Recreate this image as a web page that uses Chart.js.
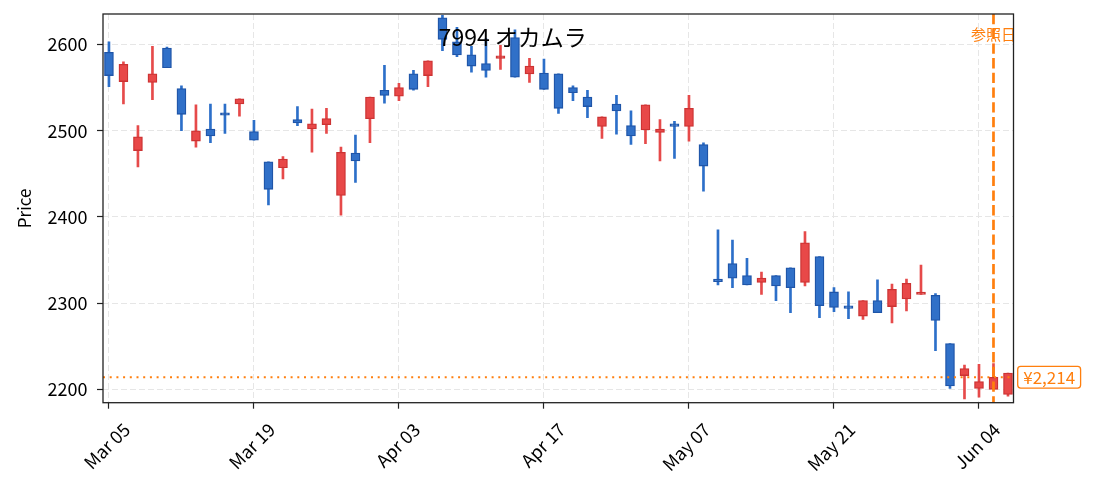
<!DOCTYPE html>
<html>
<head>
<meta charset="utf-8">
<script src="https://cdn.jsdelivr.net/npm/chart.js@4.4.1/dist/chart.umd.min.js"></script>
<style>
  html, body { margin: 0; padding: 0; background: #fff; }
</style>
</head>
<body>
<canvas id="Grafico" width="1093" height="491"></canvas>
<script>
// trading days shown on the x axis (one per candle)
const dates = [
  'Mar 05', 'Mar 06', 'Mar 07', 'Mar 10', 'Mar 11', 'Mar 12', 'Mar 13', 'Mar 14', 'Mar 17', 'Mar 18',
  'Mar 19', 'Mar 21', 'Mar 24', 'Mar 25', 'Mar 26', 'Mar 27', 'Mar 28', 'Mar 31', 'Apr 01', 'Apr 02',
  'Apr 03', 'Apr 04', 'Apr 07', 'Apr 08', 'Apr 09', 'Apr 10', 'Apr 11', 'Apr 14', 'Apr 15', 'Apr 16',
  'Apr 17', 'Apr 18', 'Apr 21', 'Apr 22', 'Apr 23', 'Apr 24', 'Apr 25', 'Apr 28', 'May 01', 'May 02',
  'May 07', 'May 08', 'May 09', 'May 12', 'May 13', 'May 14', 'May 15', 'May 16', 'May 19', 'May 20',
  'May 21', 'May 22', 'May 23', 'May 26', 'May 27', 'May 28', 'May 29', 'May 30', 'Jun 02', 'Jun 03',
  'Jun 04', 'Jun 05', 'Jun 06'
];
const opens = [
  2591, 2557, 2477, 2556, 2596, 2549, 2488, 2502, 2520, 2531,
  2499, 2464, 2457, 2513, 2502, 2507, 2425, 2474, 2514, 2547,
  2540, 2566, 2564, 2631, 2603, 2588, 2578, 2584, 2608, 2566,
  2567, 2566, 2550, 2539, 2505, 2531, 2506, 2501, 2498, 2506,
  2505, 2484, 2326, 2346, 2332, 2324, 2332, 2341, 2324, 2354,
  2313, 2295, 2285, 2303, 2296, 2305, 2310, 2309, 2253, 2216,
  2201, 2200, 2194
];
const highs = [
  2603, 2580, 2506, 2598, 2597, 2552, 2530, 2531, 2531, 2537,
  2512, 2464, 2470, 2528, 2525, 2526, 2481, 2495, 2539, 2576,
  2555, 2570, 2581, 2634, 2620, 2598, 2607, 2599, 2617, 2584,
  2583, 2566, 2552, 2547, 2516, 2541, 2523, 2530, 2513, 2511,
  2541, 2486, 2385, 2373, 2352, 2336, 2332, 2341, 2383, 2354,
  2318, 2313, 2303, 2327, 2322, 2328, 2344, 2311, 2253, 2228,
  2229, 2230, 2219
];
const lows = [
  2551, 2531, 2458, 2536, 2573, 2500, 2481, 2486, 2497, 2517,
  2489, 2414, 2444, 2506, 2475, 2497, 2402, 2440, 2486, 2532,
  2535, 2547, 2551, 2593, 2586, 2568, 2562, 2571, 2562, 2556,
  2548, 2520, 2535, 2515, 2491, 2496, 2484, 2485, 2465, 2468,
  2488, 2430, 2321, 2318, 2321, 2310, 2303, 2289, 2320, 2283,
  2290, 2282, 2281, 2289, 2277, 2291, 2310, 2245, 2201, 2189,
  2191, 2200, 2192
];
const closes = [
  2564, 2577, 2493, 2566, 2573, 2519, 2500, 2494, 2518, 2537,
  2489, 2432, 2467, 2509, 2508, 2514, 2475, 2465, 2539, 2541,
  2550, 2548, 2581, 2606, 2588, 2575, 2570, 2587, 2562, 2575,
  2548, 2526, 2544, 2528, 2516, 2523, 2494, 2530, 2502, 2505,
  2526, 2459, 2325, 2329, 2321, 2329, 2320, 2318, 2370, 2297,
  2295, 2294, 2303, 2289, 2316, 2323, 2312, 2280, 2204, 2224,
  2209, 2214, 2219
];
const xTickIdx = [0, 10, 20, 30, 40, 50, 60];
const yTicks = [2200, 2300, 2400, 2500, 2600];
const refIndex = 61;     // 参照日 (Jun 05)
const refPrice = 2214;
const chartTitle = '7994 オカムラ';

const xMin = -0.41, xMax = 62.38;
const yMin = 2184.5, yMax = 2635.4;

const FONT = '"Noto Sans CJK JP", "Noto Sans", sans-serif';
const ORANGE = '#ff7f0e';

const isUp = closes.map((c, i) => c >= opens[i]);
const bodyColor = isUp.map(u => u ? '#e84848' : '#3070c8');
const edgeColor = isUp.map(u => u ? '#cc3333' : '#1f55a8');
const wickColor = isUp.map(u => u ? '#e64a4a' : '#2c6fc9');

const overlay = {
  id: 'overlay',
  afterDraw(chart) {
    const { ctx, chartArea: a, scales: { x, y } } = chart;
    const xr = x.getPixelForValue(refIndex);
    const yr = y.getPixelForValue(refPrice);
    ctx.save();

    // reference date line
    ctx.strokeStyle = ORANGE;
    ctx.lineWidth = 2.7;
    ctx.setLineDash([10.3, 4.4]);
    ctx.beginPath();
    ctx.moveTo(xr, a.top);
    ctx.lineTo(xr, a.bottom);
    ctx.stroke();
    ctx.setLineDash([]);

    ctx.textAlign = 'center';
    ctx.textBaseline = 'middle';
    ctx.fillStyle = ORANGE;
    ctx.font = '15px ' + FONT;
    ctx.fillText('参照日', xr, a.top + 20.5);

    // title
    ctx.fillStyle = '#000';
    ctx.font = '23px ' + FONT;
    ctx.fillText(chartTitle, a.left + 0.45 * (a.right - a.left), a.top + 23.5);

    // price tag on the right
    const label = '¥' + refPrice.toLocaleString('en-US');
    ctx.font = '17px ' + FONT;
    const w = ctx.measureText(label).width + 11;
    const h = 21.7;
    const bx = a.right + 4.2, by = yr - h / 2;
    ctx.beginPath();
    ctx.roundRect(bx, by, w, h, 3);
    ctx.fillStyle = '#fff';
    ctx.fill();
    ctx.strokeStyle = ORANGE;
    ctx.lineWidth = 1.3;
    ctx.stroke();
    ctx.fillStyle = ORANGE;
    ctx.textAlign = 'left';
    ctx.fillText(label, bx + 5.5, yr + 0.5);

    // axes frame
    ctx.strokeStyle = '#222';
    ctx.lineWidth = 1.3;
    ctx.strokeRect(a.left, a.top, a.right - a.left, a.bottom - a.top);
    ctx.restore();
  }
};

function draw() {
  const canva = document.getElementById('Grafico').getContext('2d');
  new Chart(canva, {
    type: 'bar',
    data: {
      datasets: [
        {
          type: 'line',
          data: [{ x: xMin, y: refPrice }, { x: xMax, y: refPrice }],
          borderColor: ORANGE,
          borderWidth: 2,
          borderDash: [2, 4.7],
          pointRadius: 0,
          order: 0
        },
        {
          data: dates.map((d, i) => ({ x: i, y: [opens[i], closes[i]] })),
          backgroundColor: bodyColor,
          borderColor: edgeColor,
          borderWidth: 1.3,
          borderSkipped: false,
          barThickness: 9,
          minBarLength: 2.5,
          grouped: false,
          order: 1
        },
        {
          data: dates.map((d, i) => ({ x: i, y: [lows[i], highs[i]] })),
          backgroundColor: wickColor,
          borderWidth: 0,
          barThickness: 2,
          grouped: false,
          order: 2
        }
      ]
    },
    options: {
      responsive: false,
      animation: false,
      events: [],
      layout: { padding: { top: 14, right: 79.5, left: 0, bottom: 0 } },
      plugins: { legend: { display: false }, tooltip: { enabled: false } },
      scales: {
        x: {
          type: 'linear',
          min: xMin,
          max: xMax,
          offset: false,
          grid: { offset: false, color: '#e6e6e6', lineWidth: 1, tickColor: '#222', tickLength: 6, tickWidth: 1.2 },
          border: { display: false, dash: [6, 3] },
          afterBuildTicks: axis => { axis.ticks = xTickIdx.map(v => ({ value: v })); },
          ticks: {
            autoSkip: false,
            minRotation: 45,
            maxRotation: 45,
            labelOffset: 17.7,
            padding: 10,
            color: '#000',
            font: { family: FONT, size: 18 },
            callback: v => dates[v] ?? ''
          },
          afterFit: s => { s.height = 88.3; s.paddingLeft = 0; s.paddingRight = 0; }
        },
        y: {
          min: yMin,
          max: yMax,
          grid: { color: '#e6e6e6', lineWidth: 1, tickColor: '#222', tickLength: 6, tickWidth: 1.2 },
          border: { display: false, dash: [6, 3] },
          afterBuildTicks: axis => { axis.ticks = yTicks.map(v => ({ value: v })); },
          ticks: { padding: 9.5, color: '#000', font: { family: FONT, size: 18 }, callback: v => String(v) },
          title: { display: true, text: 'Price', color: '#000', font: { family: FONT, size: 17 }, padding: { top: 14, bottom: 0 } },
          afterFit: s => { s.width = 103; s.paddingTop = 0; s.paddingBottom = 0; }
        }
      }
    },
    plugins: [overlay]
  });
}

if (document.fonts && document.fonts.load) {
  Promise.all([
    document.fonts.load('16px "Noto Sans CJK JP"', 'オカムラ参照日'),
    document.fonts.load('16px "Noto Sans CJK JP"', '0123456789')
  ]).then(draw, draw);
} else {
  draw();
}
</script>
</body>
</html>
